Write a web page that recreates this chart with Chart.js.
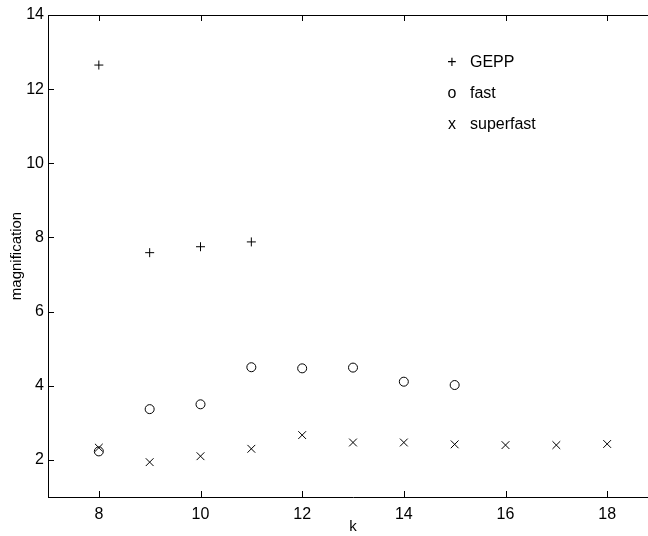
<!DOCTYPE html>
<html lang="en">
<head>
  <meta charset="UTF-8">
  <title>magnification vs k</title>
  <script src="https://cdn.jsdelivr.net/npm/chart.js"></script>
  <style>
    html, body { margin: 0; padding: 0; background: #fff; overflow: hidden; }
    #wrap { width: 648px; height: 536px; overflow: hidden; }
    canvas { display: block; }
  </style>
</head>
<body>
  <div id="wrap"><canvas id="chart" width="670" height="536"></canvas></div>
  <script>
    // values
    const kValues = [8, 9, 10, 11, 12, 13, 14, 15, 16, 17, 18];
    const geppValues = [12.65, 7.59, 7.75, 7.88];
    const fastValues = [2.23, 3.37, 3.50, 4.50, 4.47, 4.49, 4.11, 4.02];
    const superfastValues = [2.33, 1.94, 2.10, 2.30, 2.67, 2.47, 2.47, 2.42, 2.40, 2.40, 2.43];
    const seriesNames = ['GEPP', 'fast', 'superfast'];
    const legendGlyphs = ['+', 'o', 'x'];
    const xTicks = [8, 10, 12, 14, 16, 18];
    const yTicks = [2, 4, 6, 8, 10, 12, 14];

    const toPoints = vals => vals.map((v, i) => ({ x: kValues[i], y: v }));
    const FONT = '"Liberation Sans", Arial, sans-serif';

    // matlab-style box with inward ticks + legend text inside the axes
    const boxPlugin = {
      id: 'box',
      afterDraw(chart) {
        const { ctx, chartArea: a, scales: { x, y } } = chart;
        ctx.save();
        ctx.strokeStyle = '#000';
        ctx.lineWidth = 1;
        ctx.beginPath();
        ctx.moveTo(a.left, a.top + 0.5); ctx.lineTo(a.right, a.top + 0.5);
        ctx.moveTo(a.right - 0.5, a.top); ctx.lineTo(a.right - 0.5, a.bottom);
        xTicks.forEach(t => {
          const px = Math.round(x.getPixelForValue(t)) + 0.5;
          ctx.moveTo(px, a.bottom); ctx.lineTo(px, a.bottom - 6);
          ctx.moveTo(px, a.top); ctx.lineTo(px, a.top + 6);
        });
        yTicks.forEach(t => {
          const py = Math.round(y.getPixelForValue(t)) + 0.5;
          ctx.moveTo(a.left, py); ctx.lineTo(a.left + 6, py);
          ctx.moveTo(a.right, py); ctx.lineTo(a.right - 6, py);
        });
        ctx.stroke();

        ctx.fillStyle = '#000';
        ctx.font = '16px ' + FONT;
        ctx.textBaseline = 'middle';
        const lx = a.left + 404, ly = a.top + 48;
        seriesNames.forEach((name, i) => {
          const yy = ly + i * 31;
          ctx.textAlign = 'center';
          ctx.fillText(legendGlyphs[i], lx, yy);
          ctx.textAlign = 'left';
          ctx.fillText(name, lx + 18, yy);
        });
        ctx.restore();
      }
    };

    const common = { showLine: false, borderColor: '#000', backgroundColor: 'rgba(0,0,0,0)', borderWidth: 1 };

    new Chart(document.getElementById('chart'), {
      type: 'scatter',
      data: {
        datasets: [
          { ...common, label: seriesNames[0], data: toPoints(geppValues), pointStyle: 'cross', pointRadius: 4.5 },
          { ...common, label: seriesNames[1], data: toPoints(fastValues), pointStyle: 'circle', pointRadius: 4.5 },
          { ...common, label: seriesNames[2], data: toPoints(superfastValues), pointStyle: 'crossRot', pointRadius: 5.5 }
        ]
      },
      options: {
        responsive: false,
        animation: false,
        layout: { padding: { top: 15, right: 12, left: 0, bottom: 0 } },
        plugins: { legend: { display: false }, tooltip: { enabled: false } },
        scales: {
          x: {
            type: 'linear', min: 7, max: 19,
            afterFit(s) { s.height = 39; },
            afterBuildTicks(s) { s.ticks = xTicks.map(v => ({ value: v })); },
            grid: { display: false, drawTicks: false },
            border: { display: true, color: '#000', width: 1 },
            ticks: { color: '#000', font: { family: FONT, size: 16 }, padding: 8, maxRotation: 0 },
            title: { display: true, text: 'k', color: '#000', font: { family: FONT, size: 15 }, padding: { top: 0, bottom: 0 } }
          },
          y: {
            type: 'linear', min: 1, max: 14,
            afterFit(s) { s.width = 48; },
            afterBuildTicks(s) { s.ticks = yTicks.map(v => ({ value: v })); },
            grid: { display: false, drawTicks: false },
            border: { display: true, color: '#000', width: 1 },
            ticks: { color: '#000', font: { family: FONT, size: 16 }, padding: 4 },
            title: { display: true, text: 'magnification', color: '#000', font: { family: FONT, size: 15 }, padding: { top: 8, bottom: 0 } }
          }
        }
      },
      plugins: [boxPlugin]
    });
  </script>
</body>
</html>
